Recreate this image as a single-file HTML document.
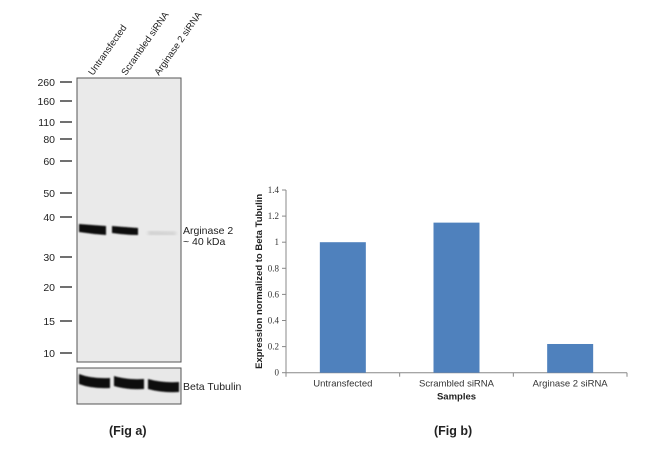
<!DOCTYPE html>
<html><head><meta charset="utf-8"><style>
html,body{margin:0;padding:0;background:#fff;width:650px;height:465px;overflow:hidden}
svg{display:block;font-family:"Liberation Sans",Arial,sans-serif}
</style></head><body>
<svg width="650" height="465" viewBox="0 0 650 465">
<defs>
<filter id="blur1"><feGaussianBlur stdDeviation="0.8"/></filter>
<filter id="blur2"><feGaussianBlur stdDeviation="1.5"/></filter>
</defs>
<g id="blot">
  <rect x="77" y="78" width="104" height="284" fill="#eaeaea" stroke="#555" stroke-width="1"/>
  <rect x="77" y="368" width="104" height="36" fill="#e8e8e8" stroke="#555" stroke-width="1"/>
  <g filter="url(#blur1)">
    <path d="M79 224 Q92 225 106 226 L106 235 Q92 234 79 232 Z" fill="#111"/>
    <path d="M112 226 Q125 227 138 228 L138 235 Q125 235 112 233 Z" fill="#111"/>
  </g>
  <path d="M148 231 L176 232 L176 235 L148 235 Z" fill="#ccc" filter="url(#blur2)"/>
  <g filter="url(#blur1)">
    <path d="M79 374 Q92 379 110 378 L110 388 Q92 389 79 384 Z" fill="#111"/>
    <path d="M114 376 Q127 380 144 379 L144 389 Q127 390 114 386 Z" fill="#111"/>
    <path d="M148 379 Q162 383 179 382 L179 392 Q162 393 148 389 Z" fill="#111"/>
  </g>
  <g id="markers" font-size="10.5" fill="#222"></g>
  <g font-size="9.5" fill="#222">
    <text transform="translate(93,76) rotate(-55)">Untransfected</text>
    <text transform="translate(126,76) rotate(-55)">Scrambled siRNA</text>
    <text transform="translate(159,76) rotate(-55)">Arginase 2 siRNA</text>
  </g>
  <text x="183" y="234" font-size="10.5" fill="#222">Arginase 2</text>
  <text x="183" y="245" font-size="10.5" fill="#222">~ 40 kDa</text>
  <text x="183" y="390" font-size="10.5" fill="#222">Beta Tubulin</text>
</g>
<text x="109" y="435" font-size="12.5" font-weight="bold" fill="#222">(Fig a)</text>
<text x="434" y="435" font-size="12.5" font-weight="bold" fill="#222">(Fig b)</text>
<g id="chart"></g>
</svg>
<script>
const markerLabels=["260","160","110","80","60","50","40","30","20","15","10"];
const markerY=[82,101,122,139,161,193,217,257,287,321,353];
const categories=["Untransfected","Scrambled siRNA","Arginase 2 siRNA"];
const values=[1.0,1.15,0.22];
const yTicks=[0,0.2,0.4,0.6,0.8,1,1.2,1.4];
const NS="http://www.w3.org/2000/svg";
function mk(tag,attrs,parent){const e=document.createElementNS(NS,tag);for(const k in attrs)e.setAttribute(k,attrs[k]);parent.appendChild(e);return e;}
const mg=document.getElementById('markers');
markerLabels.forEach((l,i)=>{
  const t=mk('text',{x:55,y:markerY[i]+4,'text-anchor':'end'},mg);t.textContent=l;
  
  
  const ln=mk('line',{x1:60,x2:72,y1:markerY[i],y2:markerY[i],stroke:'#222','stroke-width':1.3},mg);
  
  
});
const g=document.getElementById('chart');
const x0=286,x1=627,yBase=372.7,yTop=190,yMax=1.4;
const yS=v=>yBase-(v/yMax)*(yBase-yTop);
const band=(x1-x0)/categories.length;
const xC=i=>x0+band*(i+0.5);
const ax=mk('line',{x1:x0,x2:x0,y1:yTop,y2:yBase,stroke:'#888'},g);


const xa=mk('line',{x1:x0,x2:x1,y1:yBase,y2:yBase,stroke:'#888'},g);


yTicks.forEach(v=>{
  const y=yS(v);
  const tk=mk('line',{x1:x0-4,x2:x0,y1:y,y2:y,stroke:'#888'},g);
  
  
  const t=mk('text',{x:x0-7,y:y+3,'text-anchor':'end','font-size':9,fill:'#333','font-family':'Liberation Serif, serif'},g);
  t.textContent=String(v);
  
  
});
for(let i=0;i<=categories.length;i++){
  const x=x0+band*i;
  const tk=mk('line',{x1:x,x2:x,y1:yBase,y2:yBase+4,stroke:'#888'},g);
  
  
}
categories.forEach((c,i)=>{
  const w=46;
  const b=mk('rect',{x:xC(i)-w/2,y:yS(values[i]),width:w,height:yBase-yS(values[i]),fill:'#4f81bd'},g);
  
  
  const t=mk('text',{x:xC(i),y:yBase+14,'text-anchor':'middle','font-size':9.5,fill:'#333'},g);
  t.textContent=c;
  
  
});
const xt=mk('text',{x:(x0+x1)/2,y:yBase+27,'text-anchor':'middle','font-size':9.5,'font-weight':'bold',fill:'#222'},g);
xt.textContent='Samples';


const yt=mk('text',{transform:`translate(262,${(yTop+yBase)/2}) rotate(-90)`,'text-anchor':'middle','font-size':9.5,'font-weight':'bold',fill:'#222'},g);
yt.textContent='Expression  normalized to Beta Tubulin';


</script>
</body></html>
